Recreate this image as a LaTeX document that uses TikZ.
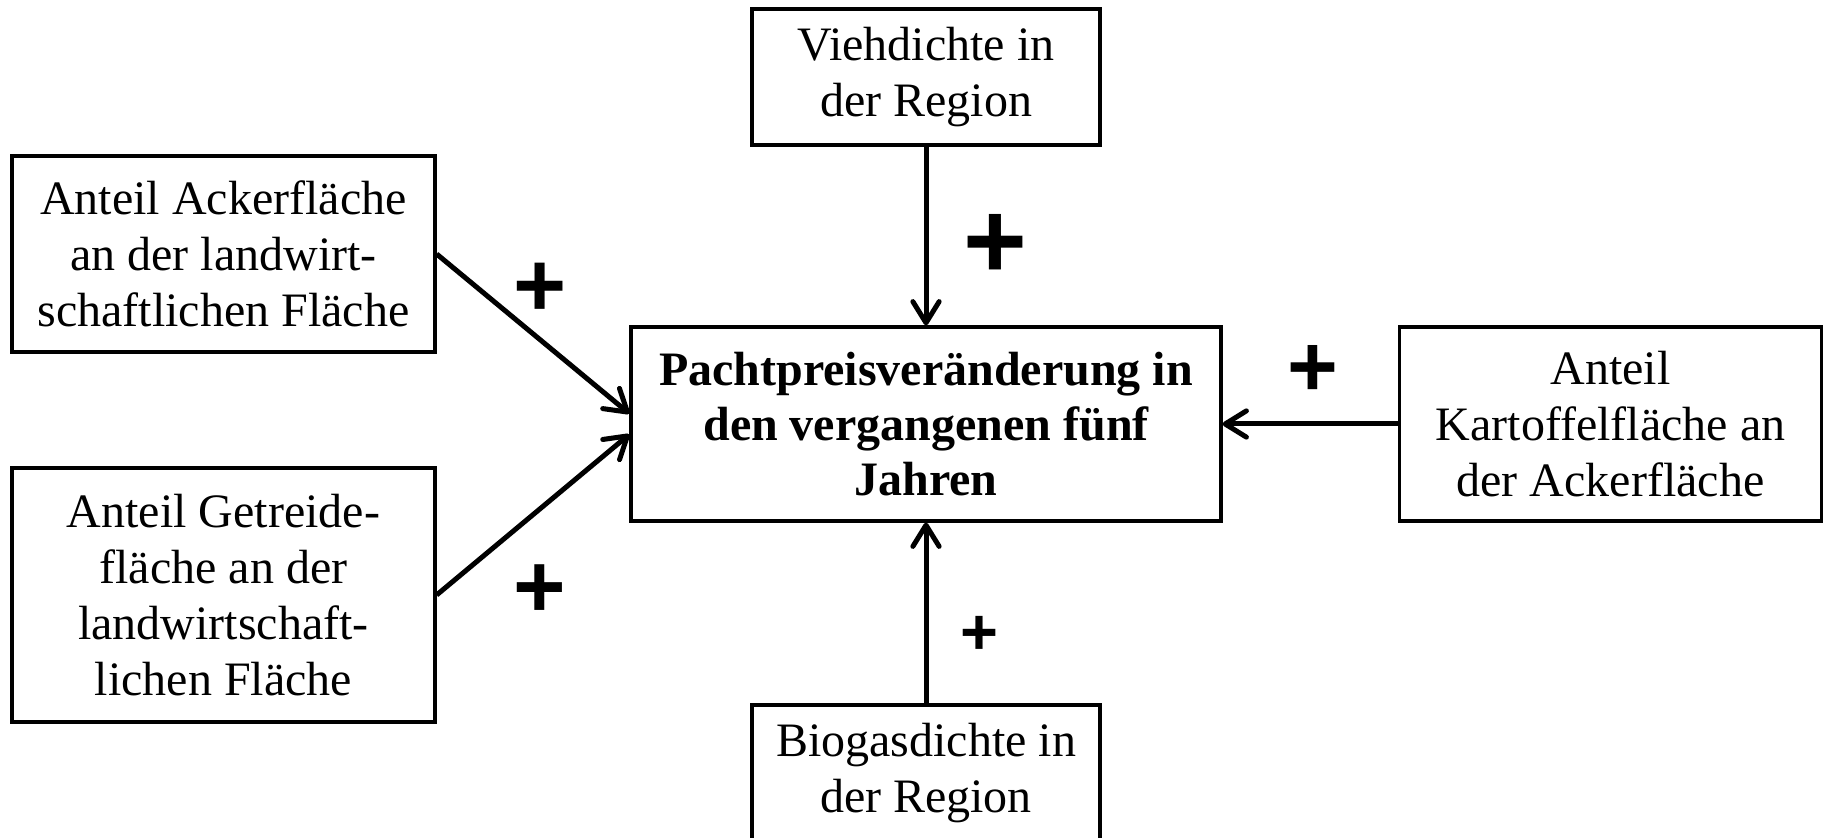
\documentclass[tikz,border=0pt]{standalone}
\usepackage{fontspec}
\setmainfont{Liberation Serif}
\newfontfamily\plusfont{Liberation Sans}
\usetikzlibrary{arrows.meta}

\begin{document}
\begin{tikzpicture}[x=0.4pt,y=-0.4pt,
    box/.style={draw, line width=1.3pt, align=center, inner sep=0pt,
      font=\fontsize{19.2}{22.5}\selectfont},
    plus/.style={inner sep=0pt, font=\plusfont\bfseries\fontsize{#1}{#1}\selectfont},
    pfeil/.style={line width=2pt, -{Straight Barb[length=8.5pt,width=10.5pt,round]}}]
    \useasboundingbox (0,0) rectangle (1825,838);

    \node[box, minimum width=139.2pt, minimum height=54.4pt] (vieh) at (926,77)
      {Viehdichte in\\der Region};
    \node[box, minimum width=169.2pt, minimum height=78.4pt] (acker) at (223.5,254)
      {Anteil Ackerfläche\\an der landwirt-\\schaftlichen Fläche};
    \node[box, minimum width=169.2pt, minimum height=101.6pt] (getreide) at (223.5,595)
      {Anteil Getreide-\\fläche an der\\landwirtschaft-\\lichen Fläche};
    \node[box, minimum width=236pt, minimum height=77.6pt, font=\fontsize{19.2}{22}\selectfont\bfseries] (pacht) at (926,424)
      {Pachtpreisveränderung in\\den vergangenen fünf\\Jahren};
    \node[box, minimum width=168.8pt, minimum height=77.6pt] (kartoffel) at (1610.5,424)
      {Anteil\\Kartoffelfläche an\\der Ackerfläche};
    \node[box, minimum width=139.2pt, minimum height=54.4pt] (biogas) at (926,773)
      {Biogasdichte in\\der Region};

    \draw[pfeil] (vieh) -- (pacht);
    \draw[pfeil] (acker.east) -- (pacht.178);
    \draw[pfeil] (getreide.east) -- (pacht.182);
    \draw[pfeil] (kartoffel) -- (pacht);
    \draw[pfeil] (biogas) -- (pacht);

    \node[plus=36.4] (packer) at (540,290) {+};
    \node[plus=43.7] (pvieh) at (995,246) {+};
    \node[plus=34.8] (pkart) at (1313,371) {+};
    \node[plus=36] (pgetr) at (540,591) {+};
    \node[plus=26] (pbio) at (979,635) {+};
  \end{tikzpicture}
\end{document}
